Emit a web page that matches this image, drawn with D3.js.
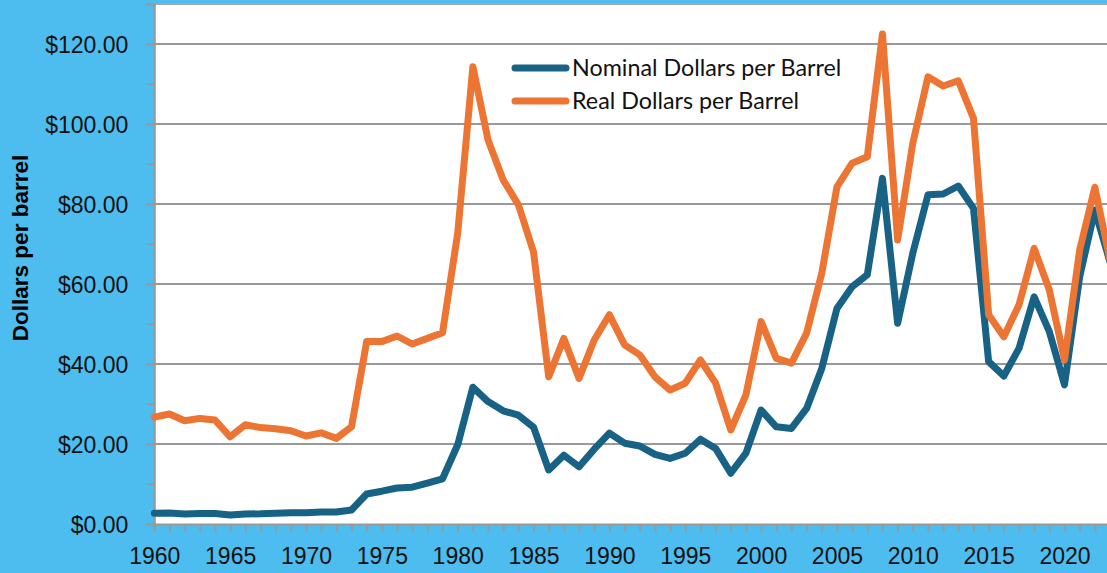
<!DOCTYPE html>
<html>
<head>
<meta charset="utf-8">
<script src="https://cdn.jsdelivr.net/npm/d3@7"></script>
<style>
  html, body { margin: 0; padding: 0; background: #4dbcee; overflow: hidden; }
  svg { display: block; }
</style>
</head>
<body>
<svg id="chart" width="1107" height="573"></svg>
<script>
const years = d3.range(1960, 2024);
const nominal = [
  2.7, 2.75, 2.5, 2.6, 2.6, 2.25, 2.5, 2.55, 2.7, 2.8,
  2.8, 3.0, 3.0, 3.5, 7.5, 8.2, 9.0, 9.2, 10.2, 11.3,
  19.8, 34.2, 30.6, 28.3, 27.2, 24.2, 13.5, 17.2, 14.3, 18.7,
  22.7, 20.2, 19.5, 17.4, 16.4, 17.7, 21.2, 18.9, 12.7, 17.7,
  28.5, 24.3, 23.9, 28.9, 38.9, 53.9, 59.3, 62.3, 86.4, 50.2,
  67.7, 82.3, 82.5, 84.5, 78.9, 40.6, 37.0, 43.9, 56.8, 48.1,
  34.8, 61.8, 78.5, 65.5
];
const real = [
  26.7, 27.5, 25.8, 26.4, 26.0, 21.8, 24.8, 24.1, 23.8, 23.3,
  22.0, 22.8, 21.4, 24.3, 45.6, 45.6, 47.0, 45.0, 46.4, 47.8,
  72.7, 114.3, 96.0, 86.0, 79.8, 68.0, 36.8, 46.4, 36.4, 46.0,
  52.3, 44.8, 42.3, 36.8, 33.5, 35.2, 41.0, 35.2, 23.5, 32.3,
  50.6, 41.4, 40.2, 47.7, 62.7, 84.3, 90.2, 91.8, 122.5, 71.0,
  95.2, 111.8, 109.5, 110.8, 101.4, 52.3, 46.8, 54.8, 68.9, 58.5,
  41.0, 68.5, 84.2, 66.0
];
const seriesNames = ["Nominal Dollars per Barrel", "Real Dollars per Barrel"];
const seriesColors = ["#186285", "#ec7533"];
const yMajorTicks = [0, 20, 40, 60, 80, 100, 120];
const yMinorTicks = [10, 30, 50, 70, 90, 110, 130];
const xLabelYears = [1960, 1965, 1970, 1975, 1980, 1985, 1990, 1995, 2000, 2005, 2010, 2015, 2020];
const yTitle = "Dollars per barrel";

const svg = d3.select("#chart");
const W = 1107, H = 573;
const plotLeft = 154.3, plotTop = 4, plotBottom = 524;

const x = d3.scaleLinear().domain([1960, 2023]).range([plotLeft, plotLeft + 63 * 15.17]);
const y = d3.scaleLinear().domain([0, 130]).range([plotBottom, plotTop]);

svg.append("rect").attr("width", W).attr("height", H).attr("fill", "#4dbcee");
svg.append("rect").attr("x", plotLeft).attr("y", plotTop).attr("width", W - plotLeft).attr("height", plotBottom - plotTop).attr("fill", "#ffffff");

// gridlines
svg.append("g").selectAll("line").data(yMajorTicks.slice(1)).join("line")
  .attr("x1", plotLeft).attr("x2", W)
  .attr("y1", d => y(d)).attr("y2", d => y(d))
  .attr("stroke", "#999").attr("stroke-width", 2);
// top border line
svg.append("line").attr("x1", plotLeft).attr("x2", W).attr("y1", y(130)).attr("y2", y(130))
  .attr("stroke", "#a6a6a6").attr("stroke-width", 2);

// y axis
const yAxis = d3.axisLeft(y).tickValues(yMajorTicks).tickSize(8).tickFormat(d => "$" + d3.format(".2f")(d));
const gy = svg.append("g").attr("transform", `translate(${plotLeft},0)`).call(yAxis);
gy.select(".domain").attr("stroke", "#999").attr("stroke-width", 2);
gy.selectAll(".tick line").attr("stroke", "#999").attr("stroke-width", 2);
gy.selectAll(".tick text").attr("font-family", "Liberation Sans, Arial, sans-serif")
  .attr("font-size", 23).attr("fill", "#111").attr("x", -26).attr("dy", "0.36em");
const yMinor = d3.axisLeft(y).tickValues(yMinorTicks).tickSize(7).tickFormat("");
const gym = svg.append("g").attr("transform", `translate(${plotLeft},0)`).call(yMinor);
gym.select(".domain").remove();
gym.selectAll(".tick line").attr("stroke", "#999").attr("stroke-width", 2);

// x axis
const xAxis = d3.axisBottom(x).tickValues(years).tickSize(8)
  .tickFormat(d => xLabelYears.includes(d) ? String(d) : "");
const gx = svg.append("g").attr("transform", `translate(0,${plotBottom})`).call(xAxis);
gx.select(".domain").attr("stroke", "#999").attr("stroke-width", 2);
gx.selectAll(".tick line").attr("stroke", "#999").attr("stroke-width", 2);
gx.selectAll(".tick text").attr("font-family", "Liberation Sans, Arial, sans-serif")
  .attr("font-size", 23).attr("fill", "#111").attr("y", 24).attr("dy", "0.71em");

// lines
const line = d3.line().x((d, i) => x(years[i])).y(d => y(d));
[nominal, real].forEach((s, k) => {
  svg.append("path").datum(s).attr("d", line)
    .attr("fill", "none").attr("stroke", seriesColors[k]).attr("stroke-width", 7)
    .attr("stroke-linejoin", "round").attr("stroke-linecap", "round");
});

// legend
const lg = svg.append("g");
seriesNames.forEach((n, k) => {
  const ly = 68 + k * 33;
  lg.append("line").attr("x1", 515).attr("x2", 566).attr("y1", ly).attr("y2", ly)
    .attr("stroke", seriesColors[k]).attr("stroke-width", 7).attr("stroke-linecap", "round");
  lg.append("text").attr("x", 572).attr("y", ly + 8).text(n)
    .attr("font-family", "Lato, 'Open Sans', sans-serif").attr("font-size", 23.3).attr("fill", "#111");
});

// y title
svg.append("text").attr("transform", `translate(28,${248}) rotate(-90)`)
  .attr("text-anchor", "middle").attr("font-family", "Liberation Sans, Arial, sans-serif")
  .attr("font-weight", "bold").attr("font-size", 22.5).attr("fill", "#000").text(yTitle);
</script>
</body>
</html>
